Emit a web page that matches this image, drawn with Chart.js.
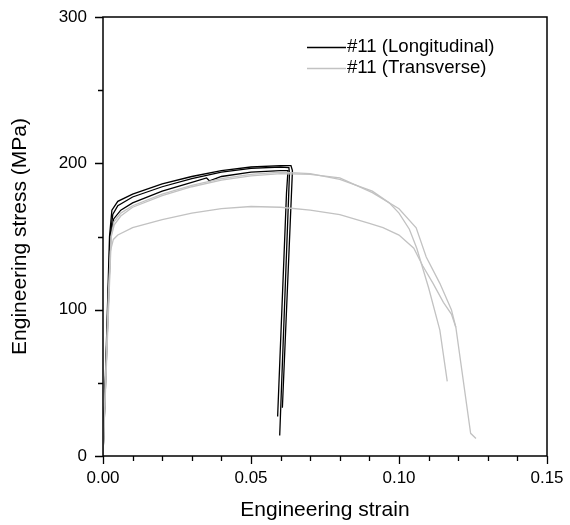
<!DOCTYPE html>
<html>
<head>
<meta charset="utf-8">
<script src="https://cdn.jsdelivr.net/npm/chart.js@4/dist/chart.umd.min.js"></script>
<style>
html,body{margin:0;padding:0;background:#fff;}
#wrap{width:570px;height:525px;}
</style>
</head>
<body>
<div id="wrap"><canvas id="c" width="570" height="525"></canvas></div>
<script>
// ---- Data (engineering strain, engineering stress in MPa) ----
const xTickLabels = ['0.00', '0.05', '0.10', '0.15'];
const yTickLabels = ['0', '100', '200', '300'];
const legendLabels = ['#11 (Longitudinal)', '#11 (Transverse)'];

// Longitudinal specimens (black)
const longA_strain = [0, 0.0012, 0.0022, 0.003, 0.005, 0.01, 0.02, 0.03, 0.04, 0.05, 0.06, 0.0635, 0.064, 0.0606];
const longA_stress = [0, 80, 150, 168, 174, 179, 186, 191, 195, 197.5, 198.5, 198.5, 195, 33];
const longB_strain = [0, 0.0013, 0.0024, 0.0033, 0.005, 0.01, 0.02, 0.03, 0.04, 0.05, 0.06, 0.0628, 0.063, 0.0597];
const longB_stress = [0, 80, 150, 165, 171, 177, 184, 189.5, 194, 196.5, 197.5, 197, 193, 14];
const longC_strain = [0, 0.0014, 0.0026, 0.0036, 0.006, 0.01, 0.02, 0.03, 0.035, 0.036, 0.04, 0.05, 0.06, 0.0625, 0.062, 0.059];
const longC_stress = [0, 80, 150, 162, 168, 173, 181, 187, 190, 188, 191, 194, 195, 195, 180, 27];

// Transverse specimens (grey)
const transA_strain = [0, 0.0014, 0.0027, 0.0037, 0.006, 0.01, 0.02, 0.03, 0.04, 0.05, 0.06, 0.07, 0.08, 0.091, 0.0967, 0.1, 0.1035, 0.106, 0.11, 0.1138, 0.1163];
const transA_stress = [0, 80, 150, 160, 166, 171, 179, 185, 189.5, 192.5, 194, 193, 189, 181, 173, 166, 155, 142, 115, 86, 51];
const transB_strain = [0, 0.0015, 0.0028, 0.0038, 0.006, 0.01, 0.02, 0.03, 0.04, 0.05, 0.06, 0.07, 0.08, 0.091, 0.1, 0.1058, 0.1092, 0.1138, 0.1177, 0.1192, 0.1242, 0.126];
const transB_stress = [0, 80, 150, 158, 164, 170, 178, 184, 188.5, 191.5, 193, 192.5, 190, 180, 169, 156, 136, 118, 100, 88, 15.5, 12];
const transC_strain = [0, 0.001, 0.0018, 0.0025, 0.0035, 0.005, 0.01, 0.02, 0.03, 0.04, 0.05, 0.06, 0.07, 0.08, 0.09, 0.0946, 0.1, 0.105, 0.108, 0.1115, 0.115, 0.1177, 0.1192];
const transC_stress = [0, 60, 110, 140, 148, 151, 156, 161.5, 166, 169, 170.5, 170, 168, 165, 159, 156, 151, 142, 130, 118, 105, 97, 88];

const BLACK = '#000000';
const GREY = '#c2c2c2';

function pts(xs, ys) { return xs.map((x, i) => ({ x: x, y: ys[i] })); }
function ds(xs, ys, color) {
  return { data: pts(xs, ys), borderColor: color, backgroundColor: color, borderWidth: 1.3,
           showLine: true, pointRadius: 0, tension: 0, fill: false };
}

const datasets = [
  ds(transA_strain, transA_stress, GREY),
  ds(transB_strain, transB_stress, GREY),
  ds(transC_strain, transC_stress, GREY),
  ds(longA_strain, longA_stress, BLACK),
  ds(longB_strain, longB_stress, BLACK),
  ds(longC_strain, longC_stress, BLACK)
];

const FONT = "'Liberation Sans', Arial, sans-serif";

// Box, outward major/minor ticks
const framePlugin = {
  id: 'frame',
  afterDraw(chart) {
    const { ctx, chartArea: a, scales } = chart;
    const xs = scales.x, ys = scales.y;
    ctx.save();
    ctx.strokeStyle = '#000';
    ctx.lineWidth = 1.5;
    ctx.strokeRect(a.left, a.top, a.right - a.left, a.bottom - a.top);
    ctx.lineWidth = 1.3;
    ctx.beginPath();
    for (let i = 0; i <= 15; i++) {
      const v = i * 0.01;
      const px = Math.round(xs.getPixelForValue(v)) + 0.5;
      const len = (i % 5 === 0) ? 8 : 5;
      ctx.moveTo(px, a.bottom);
      ctx.lineTo(px, a.bottom + len);
    }
    for (let i = 0; i <= 6; i++) {
      const v = i * 50;
      const py = Math.round(ys.getPixelForValue(v)) + 0.5;
      const len = (i % 2 === 0) ? 8 : 5;
      ctx.moveTo(a.left, py);
      ctx.lineTo(a.left - len, py);
    }
    ctx.stroke();
    ctx.restore();
  }
};

const legendPlugin = {
  id: 'innerLegend',
  afterDraw(chart) {
    const { ctx } = chart;
    const items = [
      { label: legendLabels[0], color: BLACK, y: 47 },
      { label: legendLabels[1], color: GREY, y: 68 }
    ];
    ctx.save();
    ctx.font = '18.6px ' + FONT;
    ctx.textBaseline = 'middle';
    ctx.textAlign = 'left';
    items.forEach(it => {
      ctx.strokeStyle = it.color;
      ctx.lineWidth = 1.3;
      ctx.beginPath();
      ctx.moveTo(307, it.y + 0.5);
      ctx.lineTo(346, it.y + 0.5);
      ctx.stroke();
      ctx.fillStyle = '#000';
      ctx.fillText(it.label, 347, it.y);
    });
    ctx.restore();
  }
};

new Chart(document.getElementById('c'), {
  type: 'scatter',
  data: { datasets: datasets },
  options: {
    responsive: false,
    animation: false,
    devicePixelRatio: 1,
    layout: { padding: { left: 0, top: 17, right: 23, bottom: 0 } },
    plugins: { legend: { display: false }, tooltip: { enabled: false } },
    scales: {
      x: {
        type: 'linear', min: 0, max: 0.15,
        afterFit(s) { s.height = 69; s.paddingLeft = 0; s.paddingRight = 0; },
        grid: { display: true, drawOnChartArea: false, drawTicks: false, color: 'rgba(0,0,0,0)' },
        border: { display: false },
        ticks: {
          stepSize: 0.05, padding: 12, color: '#000', font: { family: FONT, size: 17 },
          maxRotation: 0, autoSkip: false,
          callback: (v) => xTickLabels[Math.round(v / 0.05)] ?? ''
        },
        title: { display: true, text: 'Engineering strain', color: '#000',
                 font: { family: FONT, size: 21 }, padding: { top: 0, bottom: 2 } }
      },
      y: {
        type: 'linear', min: 0, max: 300,
        afterFit(s) { s.width = 103; s.paddingTop = 0; s.paddingBottom = 0; },
        grid: { display: true, drawOnChartArea: false, drawTicks: false, color: 'rgba(0,0,0,0)' },
        border: { display: false },
        ticks: {
          stepSize: 100, padding: 16, color: '#000', font: { family: FONT, size: 17 },
          callback: (v) => yTickLabels[Math.round(v / 100)] ?? ''
        },
        title: { display: true, text: 'Engineering stress (MPa)', color: '#000',
                 font: { family: FONT, size: 21 }, padding: { top: 8, bottom: 0 } }
      }
    }
  },
  plugins: [framePlugin, legendPlugin]
});
</script>
</body>
</html>
